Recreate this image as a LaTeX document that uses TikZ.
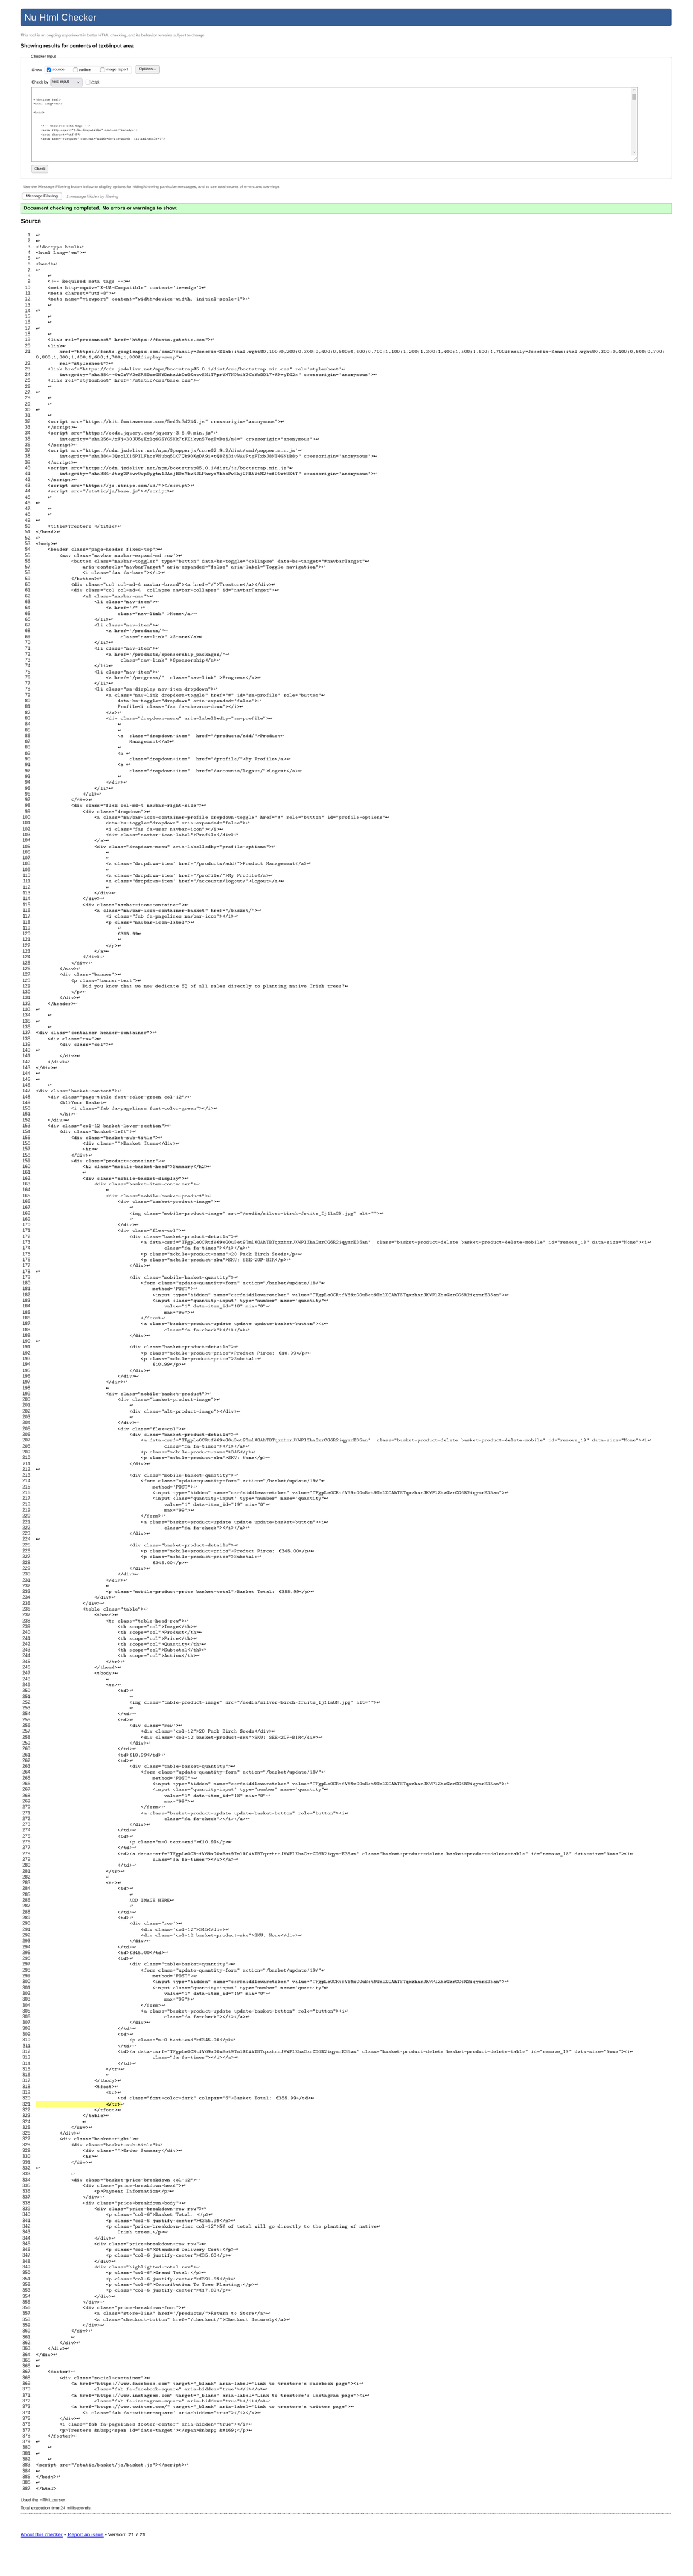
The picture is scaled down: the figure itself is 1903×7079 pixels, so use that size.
\documentclass[tikz,border=0pt]{standalone}
\usepackage{fontspec}
\setmainfont{Liberation Sans}
\newfontfamily\codefont{lmmono10-regular.otf}[FakeStretch=1.15]
\newfontfamily\codefontbf{lmmono10-regular.otf}[FakeStretch=1.15,FakeBold=2.5]
\newfontfamily\arrowfont{DejaVu Sans}
\usetikzlibrary{positioning}

\definecolor{barblue}{RGB}{54,94,150}
\definecolor{introgray}{RGB}{100,100,100}
\definecolor{boxgray}{RGB}{204,204,204}
\definecolor{checkblue}{RGB}{0,117,255}
\definecolor{checkgray}{RGB}{118,118,118}
\definecolor{btngray}{RGB}{150,150,150}
\definecolor{btnfill}{RGB}{239,239,239}
\definecolor{selgray}{RGB}{143,143,157}
\definecolor{selfill}{RGB}{233,233,237}
\definecolor{areagray}{RGB}{170,170,170}
\definecolor{trackgray}{RGB}{241,241,241}
\definecolor{thumbgray}{RGB}{193,193,193}
\definecolor{okgreen}{RGB}{204,255,204}
\definecolor{okborder}{RGB}{170,215,170}
\definecolor{hilite}{RGB}{255,255,128}
\definecolor{linkblue}{RGB}{0,0,238}
\definecolor{numgray}{RGB}{34,34,34}

\tikzset{
  txt/.style={anchor=west, inner sep=0},
  lnum/.style={anchor=base east, inner sep=0, text=numgray, font=\fontsize{13.5}{16}\selectfont},
  code/.style={anchor=base west, inner sep=0, text=black, font=\codefont\fontsize{13.25}{16}\selectfont},
  tacode/.style={anchor=base west, inner sep=0, font=\codefont\fontsize{8.3}{12}\selectfont},
  btn/.style={draw=btngray, fill=btnfill, rounded corners=3pt},
  tick/.style={draw=checkgray, rounded corners=2pt}
}

\newcommand\ret{{\arrowfont\fontsize{12}{12}\selectfont ↩}}
\newcommand\csrftok{TFgpLe0CRtfV69xG0uBet9TmlXOAhTBTqxzhnrJKWPlZhaGzrCG6R2iqymrE35an}
% one listing row: line number, indent (spaces), text
\newcommand\src[3]{%
  \pgfmathsetmacro\rowy{650.5+16*(#1-(#1<22))}%
  \node[lnum] (num#1) at (87.5,\rowy) {#1.};
  \node[code] (line#1) at ({99+8*#2},\rowy) {#3\ret};
}

\begin{document}
\begin{tikzpicture}[x=1pt, y=-1pt, font=\fontsize{11}{13}\selectfont]
\useasboundingbox (0,0) rectangle (1903,7079);
\fill[white] (0,0) rectangle (1903,7079);

% title bar
\fill[barblue, rounded corners=5pt] (57,24) rectangle (1845,72);
\node[txt, text=white, font=\fontsize{26}{30}\selectfont] (title) at (67,48) {Nu Html Checker};
\node[txt, text=introgray] (intro) at (57,99) {This tool is an ongoing experiment in better HTML checking, and its behavior remains subject to change};
\node[txt, font=\bfseries\fontsize{14}{16}\selectfont] (heading) at (57,128) {Showing results for contents of text-input area};

% checker input
\draw[boxgray, rounded corners=3pt] (57,157) rectangle (1845,491);
\node[txt, fill=white, inner xsep=2pt] (legend) at (83,157) {Checker Input};
\node[txt] (showlbl) at (87,192) {Show};
\draw[boxgray, rounded corners=3pt] (123,182) rectangle (362,202);
\fill[checkblue, rounded corners=2pt] (128,186) rectangle (140,198);
\draw[white, line width=1.6pt] (130.5,192.5) -- (133.5,195.5) -- (138,188.5);
\node[txt] (srcopt) at (144,192) {source};
\draw[tick] (201,186) rectangle (213,198);
\node[txt] (outopt) at (216,192) {outline};
\draw[tick] (275,186) rectangle (287,198);
\node[txt] (imgopt) at (290,192) {image report};
\draw[btn] (373,180) rectangle (438,202);
\node (options) at (405.5,191) {Options...};

\node[txt] (checkby) at (87,227) {Check by};
\draw[selgray, fill=selfill, rounded corners=3pt] (140,215) rectangle (227,237);
\node[txt] (seltext) at (144,226) {text input};
\draw[black] (212,224) -- (215,228) -- (218,224);
\draw[tick] (235,220) rectangle (247,232);
\node[txt] (csslbl) at (251,227) {CSS};

% text area
\draw[areagray] (87,240) rectangle (1752,443);
\fill[trackgray] (1735,241) rectangle (1751,427);
\fill[thumbgray] (1737,258) rectangle (1749,275);
\draw[checkgray] (1740.5,248) -- (1743,244) -- (1745.5,248);
\draw[checkgray] (1740.5,416) -- (1743,420) -- (1745.5,416);
\draw[checkgray] (1741,441) -- (1750,432) (1745,441) -- (1750,436);
\node[tacode] (ta3) at (92,276.5) {<!doctype html>};
\node[tacode] (ta4) at (92,288.5) {<html lang="en">};
\node[tacode] (ta6) at (92,312.5) {<head>};
\node[tacode] (ta9) at (112,348.5) {<!-- Required meta tags -->};
\node[tacode] (ta10) at (112,360.5) {<meta http-equiv="X-UA-Compatible" content='ie=edge'>};
\node[tacode] (ta11) at (112,372.5) {<meta charset="utf-8">};
\node[tacode] (ta12) at (112,384.5) {<meta name="viewport" content="width=device-width, initial-scale=1">};

\draw[btn] (87,454) rectangle (132,475);
\node (checkbtn) at (109.5,464.5) {Check};

% messages
\node[txt, text=introgray] (filterhint) at (64,515) {Use the Message Filtering button below to display options for hiding/showing particular messages, and to see total counts of errors and warnings.};
\draw[btngray, fill=white, rounded corners=3pt] (61,530) rectangle (170,549);
\node (msgfilter) at (115.5,539.5) {Message Filtering};
\node[txt, text=introgray, font=\itshape\fontsize{11}{13}\selectfont] (hidden) at (182,541) {1 message hidden by filtering};
\draw[okborder, fill=okgreen] (57,558) rectangle (1845,587);
\node[txt, font=\bfseries\fontsize{14}{16}\selectfont] (okmsg) at (65,573) {Document checking completed. No errors or warnings to show.};
\node[txt, font=\bfseries\fontsize{16}{18}\selectfont] (sourcehead) at (58,608) {Source};

% source listing
\src{1}{0}{}
\src{2}{0}{}
\src{3}{0}{<!doctype html>}
\src{4}{0}{<html lang="en">}
\src{5}{0}{}
\src{6}{0}{<head>}
\src{7}{0}{}
\src{8}{4}{}
\src{9}{4}{<!-- Required meta tags -->}
\src{10}{4}{<meta http-equiv="X-UA-Compatible" content='ie=edge'>}
\src{11}{4}{<meta charset="utf-8">}
\src{12}{4}{<meta name="viewport" content="width=device-width, initial-scale=1">}
\src{13}{4}{}
\src{14}{0}{}
\src{15}{4}{}
\src{16}{4}{}
\src{17}{0}{}
\src{18}{4}{}
\src{19}{4}{<link rel="preconnect" href="https://fonts.gstatic.com">}
\src{20}{4}{<link}
\node[lnum] (num21) at (87.5,970.5) {21.};
\node[code] (line21) at (163,970.5) {href="https://fonts.googleapis.com/css2?family=Josefin+Slab:ital,wght@0,100;0,200;0,300;0,400;0,500;0,600;0,700;1,100;1,200;1,300;1,400;1,500;1,600;1,700\&family=Josefin+Sans:ital,wght@0,300;0,400;0,600;0,700;};
\node[code] (line21b) at (99,986.5) {0,800;1,300;1,400;1,600;1,700;1,800\&display=swap"\ret};
\src{22}{8}{rel="stylesheet">}
\src{23}{4}{<link href="https://cdn.jsdelivr.net/npm/bootstrap@5.0.1/dist/css/bootstrap.min.css" rel="stylesheet"}
\src{24}{8}{integrity="sha384-+0n0xVW2eSR5OomGNYDnhzAbDsOXxcvSN1TPprVMTNDbiYZCxYbOOl7+AMvyTG2x" crossorigin="anonymous">}
\src{25}{4}{<link rel="stylesheet" href="/static/css/base.css">}
\src{26}{4}{}
\src{27}{0}{}
\src{28}{4}{}
\src{29}{4}{}
\src{30}{0}{}
\src{31}{4}{}
\src{32}{4}{<script src="https://kit.fontawesome.com/5ed2c3d244.js" crossorigin="anonymous">}
\src{33}{4}{</script>}
\src{34}{4}{<script src="https://code.jquery.com/jquery-3.6.0.min.js"}
\src{35}{8}{integrity="sha256-/xUj+3OJU5yExlq6GSYGSHk7tPXikynS7ogEvDej/m4=" crossorigin="anonymous">}
\src{36}{4}{</script>}
\src{37}{4}{<script src="https://cdn.jsdelivr.net/npm/@popperjs/core@2.9.2/dist/umd/popper.min.js"}
\src{38}{8}{integrity="sha384-IQsoLXl5PILFhosVNubq5LC7Qb9DXgDA9i+tQ8Zj3iwWAwPtgFTxbJ8NT4GN1R8p" crossorigin="anonymous">}
\src{39}{4}{</script>}
\src{40}{4}{<script src="https://cdn.jsdelivr.net/npm/bootstrap@5.0.1/dist/js/bootstrap.min.js"}
\src{41}{8}{integrity="sha384-Atwg2Pkwv9vp0ygtn1JAojH0nYbwNJLPhwyoVbhoPwBhjQPR5VtM2+xf0Uwh9KtT" crossorigin="anonymous">}
\src{42}{4}{</script>}
\src{43}{4}{<script src="https://js.stripe.com/v3/"></script>}
\src{44}{4}{<script src="/static/js/base.js"></script>}
\src{45}{4}{}
\src{46}{0}{}
\src{47}{4}{}
\src{48}{4}{}
\src{49}{0}{}
\src{50}{4}{<title>Trestore </title>}
\src{51}{0}{</head>}
\src{52}{0}{}
\src{53}{0}{<body>}
\src{54}{4}{<header class="page-header fixed-top">}
\src{55}{8}{<nav class="navbar navbar-expand-md row">}
\src{56}{12}{<button class="navbar-toggler" type="button" data-bs-toggle="collapse" data-bs-target="\#navbarTarget"}
\src{57}{16}{aria-controls="navbarTarget" aria-expanded="false" aria-label="Toggle navigation">}
\src{58}{16}{<i class="fas fa-bars"></i>}
\src{59}{12}{</button>}
\src{60}{12}{<div class="col col-md-4 navbar-brand"><a href="/">Trestore</a></div>}
\src{61}{12}{<div class="col col-md-4 ~collapse navbar-collapse" id="navbarTarget">}
\src{62}{16}{<ul class="navbar-nav">}
\src{63}{20}{<li class="nav-item">}
\src{64}{24}{<a href="/"\ }
\src{65}{28}{class="nav-link" >Home</a>}
\src{66}{20}{</li>}
\src{67}{20}{<li class="nav-item">}
\src{68}{24}{<a href="/products/"}
\src{69}{29}{class="nav-link" >Store</a>}
\src{70}{20}{</li>}
\src{71}{20}{<li class="nav-item">}
\src{72}{24}{<a href="/products/sponsorship\_packages/"}
\src{73}{29}{class="nav-link" >Sponsorship</a>}
\src{74}{20}{</li>}
\src{75}{20}{<li class="nav-item">}
\src{76}{24}{<a href="/progress/" ~class="nav-link" >Progress</a>}
\src{77}{20}{</li>}
\src{78}{20}{<li class="sm-display nav-item dropdown">}
\src{79}{24}{<a class="nav-link dropdown-toggle" href="\#" id="sm-profile" role="button"}
\src{80}{28}{data-bs-toggle="dropdown" aria-expanded="false">}
\src{81}{28}{Profile<i class="fas fa-chevron-down"></i>}
\src{82}{24}{</a>}
\src{83}{24}{<div class="dropdown-menu" aria-labelledby="sm-profile">}
\src{84}{28}{}
\src{85}{28}{}
\src{86}{28}{<a ~class="dropdown-item" ~href="/products/add/">Product}
\src{87}{32}{Management</a>}
\src{88}{28}{}
\src{89}{28}{<a\ }
\src{90}{32}{class="dropdown-item" ~href="/profile/">My Profile</a>}
\src{91}{28}{<a\ }
\src{92}{32}{class="dropdown-item" ~href="/accounts/logout/">Logout</a>}
\src{93}{28}{}
\src{94}{24}{</div>}
\src{95}{20}{</li>}
\src{96}{16}{</ul>}
\src{97}{12}{</div>}
\src{98}{12}{<div class="flex col-md-4 navbar-right-side">}
\src{99}{16}{<div class="dropdown">}
\src{100}{20}{<a class="navbar-icon-container-profile dropdown-toggle" href="\#" role="button" id="profile-options"}
\src{101}{24}{data-bs-toggle="dropdown" aria-expanded="false">}
\src{102}{24}{<i class="fas fa-user navbar-icon"></i>}
\src{103}{24}{<div class="navbar-icon-label">Profile</div>}
\src{104}{20}{</a>}
\src{105}{20}{<div class="dropdown-menu" aria-labelledby="profile-options">}
\src{106}{24}{}
\src{107}{24}{}
\src{108}{24}{<a class="dropdown-item" href="/products/add/">Product Management</a>}
\src{109}{24}{}
\src{110}{24}{<a class="dropdown-item" href="/profile/">My Profile</a>}
\src{111}{24}{<a class="dropdown-item" href="/accounts/logout/">Logout</a>}
\src{112}{24}{}
\src{113}{20}{</div>}
\src{114}{16}{</div>}
\src{115}{16}{<div class="navbar-icon-container">}
\src{116}{20}{<a class="navbar-icon-container-basket" href="/basket/">}
\src{117}{24}{<i class="fab fa-pagelines navbar-icon"></i>}
\src{118}{24}{<p class="navbar-icon-label">}
\src{119}{28}{}
\src{120}{28}{€355.99}
\src{121}{28}{}
\src{122}{24}{</p>}
\src{123}{20}{</a>}
\src{124}{16}{</div>}
\src{125}{12}{</div>}
\src{126}{8}{</nav>}
\src{127}{8}{<div class="banner">}
\src{128}{12}{<p class="banner-text">}
\src{129}{16}{Did you know that we now dedicate 5\% of all sales directly to planting native Irish trees?}
\src{130}{12}{</p>}
\src{131}{8}{</div>}
\src{132}{4}{</header>}
\src{133}{0}{}
\src{134}{4}{}
\src{135}{0}{}
\src{136}{4}{}
\src{137}{0}{<div class="container header-container">}
\src{138}{4}{<div class="row">}
\src{139}{8}{<div class="col">}
\src{140}{0}{}
\src{141}{8}{</div>}
\src{142}{4}{</div>}
\src{143}{0}{</div>}
\src{144}{0}{}
\src{145}{0}{}
\src{146}{4}{}
\src{147}{0}{<div class="basket-content">}
\src{148}{4}{<div class="page-title font-color-green col-12">}
\src{149}{8}{<h1>Your Basket}
\src{150}{12}{<i class="fab fa-pagelines font-color-green"></i>}
\src{151}{8}{</h1>}
\src{152}{4}{</div>}
\src{153}{4}{<div class="col-12 basket-lower-section">}
\src{154}{8}{<div class="basket-left">}
\src{155}{12}{<div class="basket-sub-title">}
\src{156}{16}{<div class="">Basket Items</div>}
\src{157}{16}{<hr>}
\src{158}{12}{</div>}
\src{159}{12}{<div class="product-container">}
\src{160}{16}{<h2 class="mobile-basket-head">Summary</h2>}
\src{161}{16}{}
\src{162}{16}{<div class="mobile-basket-display">}
\src{163}{20}{<div class="basket-item-container">}
\src{164}{24}{}
\src{165}{24}{<div class="mobile-basket-product">}
\src{166}{28}{<div class="basket-product-image">}
\src{167}{32}{}
\src{168}{32}{<img class="mobile-product-image" src="/media/silver-birch-fruits\_Ij1laGN.jpg" alt="">}
\src{169}{32}{}
\src{170}{28}{</div>}
\src{171}{28}{<div class="flex-col">}
\src{172}{32}{<div class="basket-product-details">}
\src{173}{36}{<a data-csrf="\csrftok" ~class="basket-product-delete basket-product-delete-mobile" id="remove\_18" data-size="None"><i}
\src{174}{44}{class="fa fa-times"></i></a>}
\src{175}{36}{<p class="mobile-product-name">20 Pack Birch Seeds</p>}
\src{176}{36}{<p class="mobile-product-sku">SKU: SEE-20P-BIR</p>}
\src{177}{32}{</div>}
\src{178}{0}{}
\src{179}{32}{<div class="mobile-basket-quantity">}
\src{180}{36}{<form class="update-quantity-form" action="/basket/update/18/"}
\src{181}{40}{method="POST">}
\src{182}{40}{<input type="hidden" name="csrfmiddlewaretoken" value="\csrftok">}
\src{183}{40}{<input class="quantity-input" type="number" name="quantity"}
\src{184}{44}{value="1" data-item\_id="18" min="0"}
\src{185}{44}{max="99">}
\src{186}{36}{</form>}
\src{187}{36}{<a class="basket-product-update update update-basket-button"><i}
\src{188}{44}{class="fa fa-check"></i></a>}
\src{189}{32}{</div>}
\src{190}{0}{}
\src{191}{32}{<div class="basket-product-details">}
\src{192}{36}{<p class="mobile-product-price">Product Pirce: €10.99</p>}
\src{193}{36}{<p class="mobile-product-price">Subotal:}
\src{194}{40}{€10.99</p>}
\src{195}{32}{</div>}
\src{196}{28}{</div>}
\src{197}{24}{</div>}
\src{198}{24}{}
\src{199}{24}{<div class="mobile-basket-product">}
\src{200}{28}{<div class="basket-product-image">}
\src{201}{32}{}
\src{202}{32}{<div class="alt-product-image"></div>}
\src{203}{32}{}
\src{204}{28}{</div>}
\src{205}{28}{<div class="flex-col">}
\src{206}{32}{<div class="basket-product-details">}
\src{207}{36}{<a data-csrf="\csrftok" ~class="basket-product-delete basket-product-delete-mobile" id="remove\_19" data-size="None"><i}
\src{208}{44}{class="fa fa-times"></i></a>}
\src{209}{36}{<p class="mobile-product-name">345</p>}
\src{210}{36}{<p class="mobile-product-sku">SKU: None</p>}
\src{211}{32}{</div>}
\src{212}{0}{}
\src{213}{32}{<div class="mobile-basket-quantity">}
\src{214}{36}{<form class="update-quantity-form" action="/basket/update/19/"}
\src{215}{40}{method="POST">}
\src{216}{40}{<input type="hidden" name="csrfmiddlewaretoken" value="\csrftok">}
\src{217}{40}{<input class="quantity-input" type="number" name="quantity"}
\src{218}{44}{value="1" data-item\_id="19" min="0"}
\src{219}{44}{max="99">}
\src{220}{36}{</form>}
\src{221}{36}{<a class="basket-product-update update update-basket-button"><i}
\src{222}{44}{class="fa fa-check"></i></a>}
\src{223}{32}{</div>}
\src{224}{0}{}
\src{225}{32}{<div class="basket-product-details">}
\src{226}{36}{<p class="mobile-product-price">Product Pirce: €345.00</p>}
\src{227}{36}{<p class="mobile-product-price">Subotal:}
\src{228}{40}{€345.00</p>}
\src{229}{32}{</div>}
\src{230}{28}{</div>}
\src{231}{24}{</div>}
\src{232}{24}{}
\src{233}{24}{<p class="mobile-product-price basket-total">Basket Total: €355.99</p>}
\src{234}{20}{</div>}
\src{235}{16}{</div>}
\src{236}{16}{<table class="table">}
\src{237}{20}{<thead>}
\src{238}{24}{<tr class="table-head-row">}
\src{239}{28}{<th scope="col">Image</th>}
\src{240}{28}{<th scope="col">Product</th>}
\src{241}{28}{<th scope="col">Price</th>}
\src{242}{28}{<th scope="col">Quantity</th>}
\src{243}{28}{<th scope="col">Subtotal</th>}
\src{244}{28}{<th scope="col">Action</th>}
\src{245}{24}{</tr>}
\src{246}{20}{</thead>}
\src{247}{20}{<tbody>}
\src{248}{24}{}
\src{249}{24}{<tr>}
\src{250}{28}{<td>}
\src{251}{32}{}
\src{252}{32}{<img class="table-product-image" src="/media/silver-birch-fruits\_Ij1laGN.jpg" alt="">}
\src{253}{32}{}
\src{254}{28}{</td>}
\src{255}{28}{<td>}
\src{256}{32}{<div class="row">}
\src{257}{36}{<div class="col-12">20 Pack Birch Seeds</div>}
\src{258}{36}{<div class="col-12 basket-product-sku">SKU: SEE-20P-BIR</div>}
\src{259}{32}{</div>}
\src{260}{28}{</td>}
\src{261}{28}{<td>€10.99</td>}
\src{262}{28}{<td>}
\src{263}{32}{<div class="table-basket-quantity">}
\src{264}{36}{<form class="update-quantity-form" action="/basket/update/18/"}
\src{265}{40}{method="POST">}
\src{266}{40}{<input type="hidden" name="csrfmiddlewaretoken" value="\csrftok">}
\src{267}{40}{<input class="quantity-input" type="number" name="quantity"}
\src{268}{44}{value="1" data-item\_id="18" min="0"}
\src{269}{44}{max="99">}
\src{270}{36}{</form>}
\src{271}{36}{<a class="basket-product-update update-basket-button" role="button"><i}
\src{272}{44}{class="fa fa-check"></i></a>}
\src{273}{32}{</div>}
\src{274}{28}{</td>}
\src{275}{28}{<td>}
\src{276}{32}{<p class="m-0 text-end">€10.99</p>}
\src{277}{28}{</td>}
\src{278}{28}{<td><a data-csrf="\csrftok" class="basket-product-delete basket-product-delete-table" id="remove\_18" data-size="None"><i}
\src{279}{40}{class="fa fa-times"></i></a>}
\src{280}{28}{</td>}
\src{281}{24}{</tr>}
\src{282}{24}{}
\src{283}{24}{<tr>}
\src{284}{28}{<td>}
\src{285}{32}{}
\src{286}{32}{ADD IMAGE HERE}
\src{287}{32}{}
\src{288}{28}{</td>}
\src{289}{28}{<td>}
\src{290}{32}{<div class="row">}
\src{291}{36}{<div class="col-12">345</div>}
\src{292}{36}{<div class="col-12 basket-product-sku">SKU: None</div>}
\src{293}{32}{</div>}
\src{294}{28}{</td>}
\src{295}{28}{<td>€345.00</td>}
\src{296}{28}{<td>}
\src{297}{32}{<div class="table-basket-quantity">}
\src{298}{36}{<form class="update-quantity-form" action="/basket/update/19/"}
\src{299}{40}{method="POST">}
\src{300}{40}{<input type="hidden" name="csrfmiddlewaretoken" value="\csrftok">}
\src{301}{40}{<input class="quantity-input" type="number" name="quantity"}
\src{302}{44}{value="1" data-item\_id="19" min="0"}
\src{303}{44}{max="99">}
\src{304}{36}{</form>}
\src{305}{36}{<a class="basket-product-update update-basket-button" role="button"><i}
\src{306}{44}{class="fa fa-check"></i></a>}
\src{307}{32}{</div>}
\src{308}{28}{</td>}
\src{309}{28}{<td>}
\src{310}{32}{<p class="m-0 text-end">€345.00</p>}
\src{311}{28}{</td>}
\src{312}{28}{<td><a data-csrf="\csrftok" class="basket-product-delete basket-product-delete-table" id="remove\_19" data-size="None"><i}
\src{313}{40}{class="fa fa-times"></i></a>}
\src{314}{28}{</td>}
\src{315}{24}{</tr>}
\src{316}{24}{}
\src{317}{20}{</tbody>}
\src{318}{20}{<tfoot>}
\src{319}{24}{<tr>}
\src{320}{28}{<td class="font-color-dark" colspan="5">Basket Total: €355.99</td>}
% highlighted row
\fill[hilite] (99,5774) rectangle (332,5790);
\node[lnum] (num321) at (87.5,5786.5) {321.};
\node[code] (line321) at (291,5786.5) {{\codefontbf\fontsize{13.25}{16}\selectfont </tr>}\ret};
\src{322}{20}{</tfoot>}
\src{323}{16}{</table>}
\src{324}{16}{}
\src{325}{12}{</div>}
\src{326}{8}{</div>}
\src{327}{8}{<div class="basket-right">}
\src{328}{12}{<div class="basket-sub-title">}
\src{329}{16}{<div class="">Order Summary</div>}
\src{330}{16}{<hr>}
\src{331}{12}{</div>}
\src{332}{0}{}
\src{333}{12}{}
\src{334}{12}{<div class="basket-price-breakdown col-12">}
\src{335}{16}{<div class="price-breakdown-head">}
\src{336}{20}{<p>Payment Information</p>}
\src{337}{16}{</div>}
\src{338}{16}{<div class="price-breakdown-body">}
\src{339}{20}{<div class="price-breakdown-row row">}
\src{340}{24}{<p class="col-6">Basket Total: </p>}
\src{341}{24}{<p class="col-6 justify-center">€355.99</p>}
\src{342}{24}{<p class="price-breakdown-disc col-12">5\% of total will go directly to the planting of native}
\src{343}{28}{Irish trees.</p>}
\src{344}{20}{</div>}
\src{345}{20}{<div class="price-breakdown-row row">}
\src{346}{24}{<p class="col-6">Standard Delivery Cost:</p>}
\src{347}{24}{<p class="col-6 justify-center">€35.60</p>}
\src{348}{20}{</div>}
\src{349}{20}{<div class="highlighted-total row">}
\src{350}{24}{<p class="col-6">Grand Total:</p>}
\src{351}{24}{<p class="col-6 justify-center">€391.59</p>}
\src{352}{24}{<p class="col-6">Contribution To Tree Planting:</p>}
\src{353}{24}{<p class="col-6 justify-center">€17.80</p>}
\src{354}{20}{</div>}
\src{355}{16}{</div>}
\src{356}{16}{<div class="price-breakdown-foot">}
\src{357}{20}{<a class="store-link" href="/products/">Return to Store</a>}
\src{358}{20}{<a class="checkout-button" href="/checkout/">Checkout Securely</a>}
\src{359}{16}{</div>}
\src{360}{12}{</div>}
\src{361}{12}{}
\src{362}{8}{</div>}
\src{363}{4}{</div>}
\src{364}{0}{</div>}
\src{365}{0}{}
\src{366}{0}{}
\src{367}{4}{<footer>}
\src{368}{8}{<div class="social-container">}
\src{369}{12}{<a href="https://www.facebook.com" target="\_blank" aria-label="Link to trestore's facebook page"><i}
\src{370}{20}{class="fab fa-facebook-square" aria-hidden="true"></i></a>}
\src{371}{12}{<a href="https://www.instagram.com" target="\_blank" aria-label="Link to trestore's instagram page"><i}
\src{372}{20}{class="fab fa-instagram-square" aria-hidden="true"></i></a>}
\src{373}{12}{<a href="https://www.twitter.com/" target="\_blank" aria-label="Link to trestore's twitter page">}
\src{374}{16}{<i class="fab fa-twitter-square" aria-hidden="true"></i></a>}
\src{375}{8}{</div>}
\src{376}{8}{<i class="fab fa-pagelines footer-center" aria-hidden="true"></i>}
\src{377}{8}{<p>Trestore \&nbsp;<span id="date-target"></span>\&nbsp; \&\#169;</p>}
\src{378}{4}{</footer>}
\src{379}{0}{}
\src{380}{4}{}
\src{381}{0}{}
\src{382}{4}{}
\src{383}{0}{<script src="/static/basket/js/basket.js"></script>}
\src{384}{0}{}
\src{385}{0}{</body>}
\src{386}{0}{}
\node[lnum] (num387) at (87.5,6842.5) {387.};
\node[code] (line387) at (99,6842.5) {</html>};

% footer
\node[txt, font=\fontsize{12}{14}\selectfont] (parser) at (57,6871) {Used the HTML parser.};
\node[txt, font=\fontsize{12}{14}\selectfont] (exectime) at (57,6892) {Total execution time 24 milliseconds.};
\draw[gray, dotted] (57,6907) -- (1845,6907);
\node[txt, text=linkblue, font=\fontsize{14}{16}\selectfont] (about) at (57,6965) {About this checker};
\node[base right=4pt of about, inner sep=0, font=\fontsize{14}{16}\selectfont] (dot1) {•};
\node[base right=4pt of dot1, inner sep=0, text=linkblue, font=\fontsize{14}{16}\selectfont] (report) {Report an issue};
\node[base right=4pt of report, inner sep=0, font=\fontsize{14}{16}\selectfont] (version) {• Version: 21.7.21};
\draw[linkblue] ([yshift=-2pt]about.base west) -- ([yshift=-2pt]about.base east);
\draw[linkblue] ([yshift=-2pt]report.base west) -- ([yshift=-2pt]report.base east);
\end{tikzpicture}
\end{document}
